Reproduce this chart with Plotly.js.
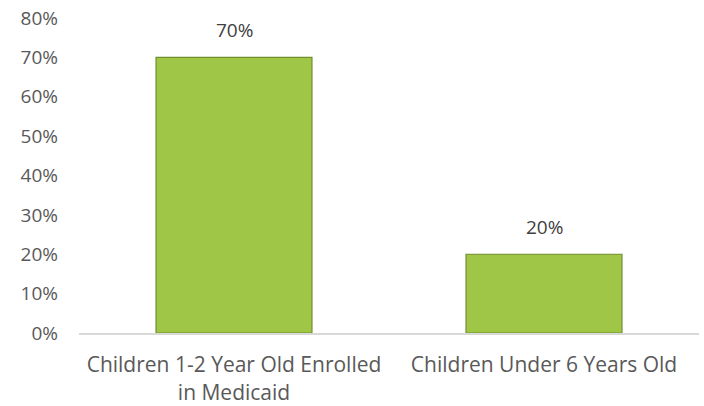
<!DOCTYPE html>
<html>
<head>
<meta charset="utf-8">
<script src="https://cdn.plot.ly/plotly-3.0.1.min.js"></script>
<style>html,body{margin:0;padding:0;background:#fff;}#chart{width:704px;height:406px;}</style>
</head>
<body>
<div id="chart"></div>
<script>
const categories = ["Children 1-2 Year Old Enrolled<br>in Medicaid", "Children Under 6 Years Old"];
const values = [0.70, 0.20];
const valueLabels = ["70%", "20%"];
const yTickVals = [0, 0.1, 0.2, 0.3, 0.4, 0.5, 0.6, 0.7, 0.8];

const FONT = "Open Sans, Liberation Sans, sans-serif";

const trace = {
  type: "bar",
  x: categories,
  y: values,
  marker: { color: "#9FC647", line: { color: "#6F8F2C", width: 1.2 } },
  hoverinfo: "none"
};

const annotations = categories.map((c, i) => ({
  x: c, y: values[i], xref: "x", yref: "y",
  text: valueLabels[i], showarrow: false,
  yanchor: "bottom", yshift: 12,
  font: { family: FONT, size: 19, color: "#404040" }
}));

const layout = {
  width: 704, height: 406,
  margin: { l: 79, r: 5, t: 18, b: 73 },
  paper_bgcolor: "#ffffff", plot_bgcolor: "#ffffff",
  showlegend: false,
  bargap: 0.497,
  xaxis: {
    type: "category",
    showline: true, linecolor: "#D9D9D9", linewidth: 2,
    ticks: "", showgrid: false, zeroline: false,
    ticklabelstandoff: 12,
    tickfont: { family: FONT, size: 21, color: "#595959" }
  },
  yaxis: {
    range: [0, 0.8], tickvals: yTickVals, tickformat: ".0%",
    showgrid: false, zeroline: false, showline: false, ticks: "",
    ticklabelstandoff: 20,
    tickfont: { family: FONT, size: 19, color: "#595959" }
  },
  annotations: annotations
};

Plotly.newPlot("chart", [trace], layout, { displayModeBar: false, staticPlot: true });
</script>
</body>
</html>
